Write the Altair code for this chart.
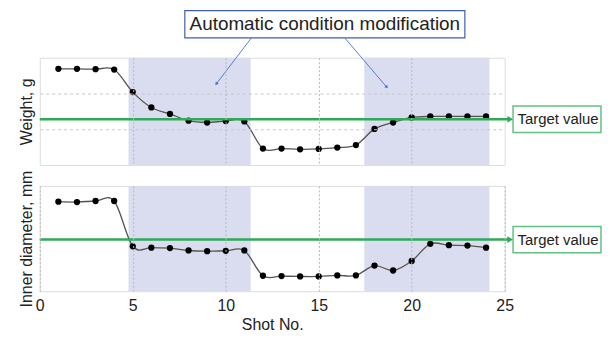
import altair as alt
import pandas as pd

# ---- data ----
shots = list(range(1, 25))
weight = [2.69, 2.69, 2.68, 2.67, 2.04, 1.61, 1.43, 1.24, 1.19, 1.23, 1.22, 0.46,
          0.46, 0.44, 0.45, 0.49, 0.56, 1.01, 1.19, 1.33, 1.36, 1.36, 1.36, 1.36]
inner = [2.55, 2.54, 2.57, 2.57, 1.28, 1.24, 1.23, 1.16, 1.14, 1.15, 1.16, 0.44,
         0.43, 0.42, 0.42, 0.45, 0.45, 0.73, 0.59, 0.86, 1.35, 1.31, 1.30, 1.24]
target_weight = 1.28
target_inner = 1.47
shade_start = [4.77, 17.45]
shade_end = [11.34, 24.18]
x_ticks = [0, 5, 10, 15, 20, 25]
grid_x = [5, 10, 15, 20]
grid_y = [1, 2]

FONT = "Liberation Sans"
GREEN = "#2eaa58"
BOXGREEN = "#62c283"
BLUE = "#3d5fa9"
SHADE = "#d9ddef"
GRID = "#b8b8b8"
TXT = "#222222"

XS = alt.Scale(domain=[0, 25], nice=False, zero=False)
YS = alt.Scale(domain=[0, 3], nice=False, zero=False)


def panel(values, target, title, bottom, height):
    pts = pd.DataFrame({"shot": shots, "v": values})
    if bottom:
        xaxis = alt.Axis(values=x_ticks, title="Shot No.", grid=True, gridDash=[2, 2],
                         gridColor=GRID, ticks=False, domain=False, labelFontSize=16,
                         labelColor=TXT, labelPadding=6, labelFlush=False,
                         titleFontSize=16, titleColor=TXT,
                         titlePadding=4, titleFontWeight="normal", zindex=1)
        yaxis = alt.Axis(title=title, labels=False, ticks=False, domain=False, grid=False,
                         titleFontSize=16, titleColor=TXT, titlePadding=5,
                         titleFontWeight="normal")
    else:
        xaxis = alt.Axis(values=grid_x, labels=False, ticks=False, domain=False, title=None,
                         grid=True, gridDash=[2, 2], gridColor=GRID, zindex=1)
        yaxis = alt.Axis(title=title, labels=False, ticks=False, domain=False, grid=True,
                         values=grid_y, gridDash=[3, 3], gridColor="#c8c8c8",
                         titleFontSize=16, titleColor=TXT, titlePadding=5,
                         titleFontWeight="normal", zindex=1)

    shade = alt.Chart(pd.DataFrame({"s": shade_start, "e": shade_end, "y0": [0, 0], "y1": [3, 3]})).mark_rect(
        color=SHADE, opacity=1).encode(
        x=alt.X("s:Q", scale=XS, axis=xaxis),
        x2="e:Q",
        y=alt.Y("y0:Q", scale=YS, axis=yaxis),
        y2="y1:Q",
    )
    line = alt.Chart(pts).mark_line(interpolate="cardinal", color="#5a524e", strokeWidth=1.3).encode(
        x=alt.X("shot:Q", scale=XS), y=alt.Y("v:Q", scale=YS))
    dots = alt.Chart(pts).mark_circle(size=40, color="black", opacity=1).encode(
        x=alt.X("shot:Q", scale=XS), y=alt.Y("v:Q", scale=YS))

    hb = 13.3 / (height / 3.0)
    tgt = pd.DataFrame({"x0": [0], "x1": [25.2], "xa": [25.3], "y": [target],
                        "bx0": [25.45], "bx1": [30.18], "by0": [target - hb], "by1": [target + hb],
                        "tx": [25.69], "lab": ["Target value"]})
    rule = alt.Chart(tgt).mark_rule(color=GREEN, strokeWidth=2.5, clip=False).encode(
        x=alt.X("x0:Q", scale=XS), x2="x1:Q", y=alt.Y("y:Q", scale=YS))
    head = alt.Chart(tgt).mark_point(shape="triangle-right", filled=True, size=45, color=GREEN,
                                     opacity=1, clip=False).encode(
        x=alt.X("xa:Q", scale=XS), y=alt.Y("y:Q", scale=YS))
    box = alt.Chart(tgt).mark_rect(fill="white", stroke=BOXGREEN, strokeWidth=1.5, clip=False).encode(
        x=alt.X("bx0:Q", scale=XS), x2="bx1:Q", y=alt.Y("by0:Q", scale=YS), y2="by1:Q")
    txt = alt.Chart(tgt).mark_text(align="left", baseline="middle", fontSize=15, color=TXT,
                                   font=FONT, clip=False).encode(
        x=alt.X("tx:Q", scale=XS), y=alt.Y("y:Q", scale=YS), text="lab:N")

    layers = [shade, line, dots, rule, head, box, txt]

    if not bottom:
        ann = pd.DataFrame({"bx0": [7.80], "bx1": [22.86], "by0": [3.556], "by1": [4.317],
                            "tx": [15.33], "ty": [3.93],
                            "lab": ["Automatic condition modification"]})
        arr = pd.DataFrame({"x0": [11.38, 16.40], "y0": [3.556, 3.556],
                            "x1": [9.51, 18.64], "y1": [2.28, 2.19], "ang": [217, 139]})
        abox = alt.Chart(ann).mark_rect(fill="white", stroke=BLUE, strokeWidth=1.2, clip=False).encode(
            x=alt.X("bx0:Q", scale=XS), x2="bx1:Q", y=alt.Y("by0:Q", scale=YS), y2="by1:Q")
        atxt = alt.Chart(ann).mark_text(align="center", baseline="middle", fontSize=19, color=TXT,
                                        font=FONT, clip=False).encode(
            x=alt.X("tx:Q", scale=XS), y=alt.Y("ty:Q", scale=YS), text="lab:N")
        arule = alt.Chart(arr).mark_rule(color="#4a70c0", strokeWidth=0.9, clip=False).encode(
            x=alt.X("x0:Q", scale=XS), x2="x1:Q", y=alt.Y("y0:Q", scale=YS), y2="y1:Q")
        ahead = alt.Chart(arr).mark_point(shape="triangle", filled=True, size=14, color="#4a70c0",
                                          opacity=1, clip=False).encode(
            x=alt.X("x1:Q", scale=XS), y=alt.Y("y1:Q", scale=YS),
            angle=alt.Angle("ang:Q", scale=None))
        layers += [arule, ahead, abox, atxt]

    return alt.layer(*layers).properties(width=468, height=height)


top = panel(weight, target_weight, "Weight, g", False, 108)
bot = panel(inner, target_inner, "Inner diameter, mm", True, 106)

chart = alt.vconcat(top, bot, spacing=21, bounds="flush").properties(
    padding={"left": 10, "top": 0, "right": 0, "bottom": 0}
).configure_view(stroke="#6b625d", strokeWidth=2).configure(font=FONT)

chart.save("out.html", embed_options={"renderer": "svg", "actions": False})
